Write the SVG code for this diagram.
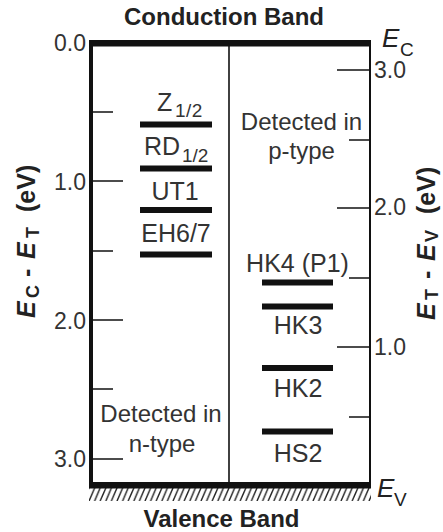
<svg xmlns="http://www.w3.org/2000/svg" width="443" height="532" viewBox="0 0 443 532">
<style>
text{font-family:"Liberation Sans",Arial,sans-serif;fill:#333}
.b{font-weight:bold;font-size:24px;fill:#222}
.t{font-size:23px}
.l{font-size:25px}
.d{font-size:24px}
.e{font-style:italic;font-size:26px;fill:#222}
.ax{font-weight:bold;font-size:25px;fill:#222}
.ln{stroke:#111;fill:none}
.lv{fill:#111}
</style>
<defs>
<pattern id="hatch" patternUnits="userSpaceOnUse" x="89" y="488" width="5.6" height="13">
<path d="M0,13L5.6,0M-5.6,13L0,0M5.6,13L11.2,0" stroke="#222" stroke-width="1.4"/>
</pattern>
</defs>
<g id="frame">
<rect x="89" y="488" width="282" height="13" fill="url(#hatch)"/>
<rect class="lv" x="89" y="40" width="282" height="6.5"/>
<rect class="lv" x="89" y="482" width="282" height="6.5"/>
<rect class="lv" x="89" y="40" width="4" height="448"/>
<line class="ln" x1="370" y1="43" x2="370" y2="485" stroke-width="2"/>
<line class="ln" x1="229" y1="43" x2="229" y2="485" stroke-width="1.6"/>
</g>
<g id="ticks" class="ln" stroke-width="1.5">
<line x1="93" y1="181" x2="123" y2="181"/>
<line x1="93" y1="320" x2="123" y2="320"/>
<line x1="93" y1="459" x2="123" y2="459"/>
<line x1="93" y1="112" x2="113" y2="112"/>
<line x1="93" y1="251" x2="113" y2="251"/>
<line x1="93" y1="389" x2="113" y2="389"/>
<line x1="337" y1="70" x2="370" y2="70"/>
<line x1="337" y1="208" x2="370" y2="208"/>
<line x1="337" y1="347" x2="370" y2="347"/>
<line x1="349" y1="140" x2="370" y2="140"/>
<line x1="349" y1="278" x2="370" y2="278"/>
<line x1="349" y1="417" x2="370" y2="417"/>
</g>
<g id="tick-labels" class="t">
<text x="86" y="51" text-anchor="end">0.0</text>
<text x="86" y="190" text-anchor="end">1.0</text>
<text x="86" y="329" text-anchor="end">2.0</text>
<text x="86" y="467" text-anchor="end">3.0</text>
<text x="374" y="78">3.0</text>
<text x="374" y="215">2.0</text>
<text x="374" y="355">1.0</text>
</g>
<g id="bands">
<text class="b" x="224" y="24.5" text-anchor="middle">Conduction Band</text>
<text class="b" x="221.5" y="526.5" text-anchor="middle">Valence Band</text>
<text class="e" x="382" y="47">E<tspan font-style="normal" font-size="19" x="400" y="56">C</tspan></text>
<text class="e" x="377" y="497">E<tspan font-style="normal" font-size="19" x="394" y="506">V</tspan></text>
</g>
<g id="axis-labels">
<text class="ax" transform="translate(35,318) rotate(-90)"><tspan font-style="italic" x="0" y="0">E</tspan><tspan font-size="18" x="20" y="4">C</tspan><tspan x="41" y="0">-</tspan><tspan font-style="italic" x="59" y="0">E</tspan><tspan font-size="18" x="80" y="4">T</tspan><tspan x="106" y="0">(eV)</tspan></text>
<text class="ax" transform="translate(435,320) rotate(-90)"><tspan font-style="italic" x="0" y="0">E</tspan><tspan font-size="18" x="20" y="3">T</tspan><tspan x="41" y="0">-</tspan><tspan font-style="italic" x="59" y="0">E</tspan><tspan font-size="18" x="78" y="3">V</tspan><tspan x="106" y="0">(eV)</tspan></text>
</g>
<g id="notes" class="d">
<text x="301.5" y="129.5" text-anchor="middle">Detected in</text>
<text x="301.5" y="158.5" text-anchor="middle">p-type</text>
<text x="161" y="421.5" text-anchor="middle">Detected in</text>
<text x="162" y="451.5" text-anchor="middle">n-type</text>
</g>
<g id="Z12">
<rect class="lv" x="140" y="121.5" width="72" height="6"/>
<text class="l" x="157" y="110.5">Z<tspan font-size="19" letter-spacing="0.5" x="175" y="117">1/2</tspan></text>
</g>
<g id="RD12">
<rect class="lv" x="140" y="165.5" width="72" height="6"/>
<text class="l" x="144" y="155">RD<tspan font-size="19" letter-spacing="0" x="182" y="162">1/2</tspan></text>
</g>
<g id="UT1">
<rect class="lv" x="140" y="207" width="72" height="6"/>
<text class="l" x="175" y="200" text-anchor="middle">UT1</text>
</g>
<g id="EH67">
<rect class="lv" x="140" y="251.5" width="72" height="6"/>
<text class="l" x="176" y="241.5" text-anchor="middle">EH6/7</text>
</g>
<g id="HK4">
<rect class="lv" x="262" y="279.5" width="71" height="6"/>
<text class="l" x="297.5" y="271.5" text-anchor="middle">HK4 (P1)</text>
</g>
<g id="HK3">
<rect class="lv" x="262" y="303.5" width="71" height="6"/>
<text class="l" x="298" y="333.5" text-anchor="middle">HK3</text>
</g>
<g id="HK2">
<rect class="lv" x="262" y="365" width="71" height="6"/>
<text class="l" x="298" y="396.5" text-anchor="middle">HK2</text>
</g>
<g id="HS2">
<rect class="lv" x="262" y="428.5" width="71" height="6"/>
<text class="l" x="298" y="461.5" text-anchor="middle">HS2</text>
</g>
</svg>
